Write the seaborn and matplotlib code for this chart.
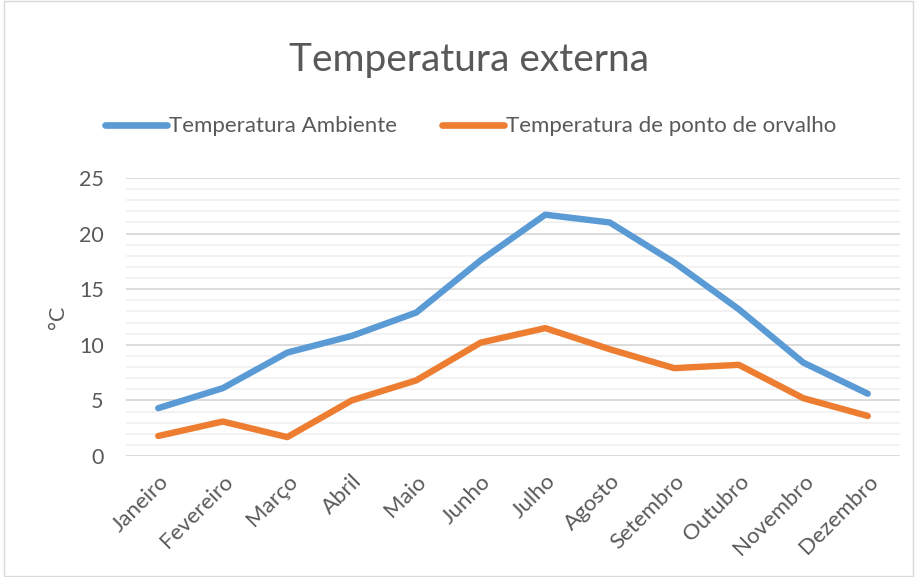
import matplotlib.pyplot as plt
import matplotlib.patches as mpatches
import pandas as pd
import seaborn as sns

meses = ['Janeiro', 'Fevereiro', 'Março', 'Abril', 'Maio', 'Junho',
         'Julho', 'Agosto', 'Setembro', 'Outubro', 'Novembro', 'Dezembro']
temp_ambiente = [4.3, 6.1, 9.3, 10.8, 12.9, 17.6, 21.7, 21.0, 17.4, 13.2, 8.4, 5.6]
temp_orvalho = [1.8, 3.1, 1.7, 5.0, 6.8, 10.2, 11.5, 9.6, 7.9, 8.2, 5.2, 3.6]
series = ['Temperatura Ambiente', 'Temperatura de ponto de orvalho']

df = pd.DataFrame({
    'mes': meses * 2,
    'x': list(range(len(meses))) * 2,
    'valor': temp_ambiente + temp_orvalho,
    'serie': [series[0]] * len(meses) + [series[1]] * len(meses),
})

sns.set_theme(style="white")
plt.rcParams['font.family'] = ['Lato', 'DejaVu Sans']
cor_texto = '#595959'
cores = ['#5B9BD5', '#ED7D31']

fig = plt.figure(figsize=(9.17, 5.77), dpi=100)
ax = fig.add_axes([0.1374, 0.2097, 0.9815 - 0.1374, 0.6915 - 0.2097])

sns.lineplot(data=df, x='x', y='valor', hue='serie',
             palette=cores, linewidth=4.6,
             solid_capstyle='round', solid_joinstyle='round',
             legend=False, ax=ax)

ax.set_xlim(-0.5, len(meses) - 0.5)
ax.set_ylim(0, 25)
ax.set_yticks(range(0, 26, 5))
ax.set_yticks(range(0, 26, 1), minor=True)
ax.grid(axis='y', which='minor', color='#F0F0F0', linewidth=1.2, zorder=0)
ax.grid(axis='y', which='major', color='#D9D9D9', linewidth=1.3, zorder=0)
ax.set_axisbelow(True)
for s in ax.spines.values():
    s.set_visible(False)

ax.set_xticks(range(len(meses)))
ax.set_xticklabels(meses, rotation=45, ha='right', rotation_mode='anchor')
ax.tick_params(axis='both', which='both', length=0, colors=cor_texto)
ax.tick_params(axis='x', pad=11, labelsize=16)
ax.tick_params(axis='y', pad=16, labelsize=15.5)
ax.set_xlabel('')
ax.set_ylabel('°C', fontsize=15.5, color=cor_texto, labelpad=8)

fig.suptitle('Temperatura externa', x=0.511, y=0.927, fontsize=28,
             fontweight='normal', color=cor_texto)

handles = [plt.Line2D([], [], color=c, linewidth=4.8, solid_capstyle='round') for c in cores]
fig.legend(handles, series, loc='center', bbox_to_anchor=(0.513, 0.781), ncol=2,
           frameon=False, fontsize=16, handlelength=2.8, handletextpad=0.1,
           columnspacing=2.0, labelcolor=cor_texto)

fig.patches.append(mpatches.Rectangle((0.004, 0.002), 0.992, 0.996, transform=fig.transFigure,
                                      fill=False, edgecolor='#D9D9D9', linewidth=1))

fig.savefig('out.png', dpi=100, facecolor='white')
